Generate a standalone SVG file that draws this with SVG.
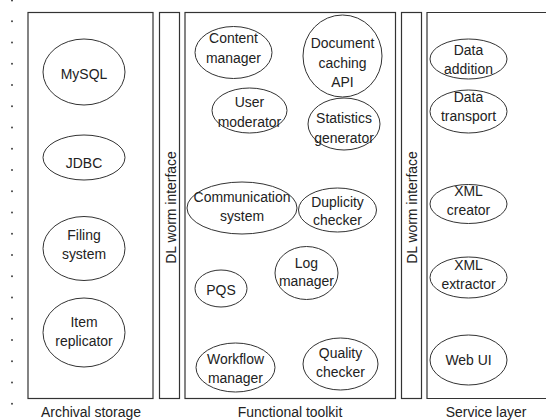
<svg xmlns="http://www.w3.org/2000/svg" width="546" height="420" viewBox="0 0 546 420">
  <style>
    .panel { fill: none; stroke: #333; stroke-width: 1.2; }
    .node { fill: #fff; stroke: #333; stroke-width: 1; }
    .dot { fill: #444; }
    text { font-family: "Liberation Sans", Arial, sans-serif; font-size: 15.5px; fill: #222; text-anchor: middle; }
  </style>

  <!-- dotted margin marks -->
  <g id="margin-dots">
    <circle class="dot" cx="12" cy="0.5" r="1"/>
    <circle class="dot" cx="12" cy="21.3" r="1"/>
    <circle class="dot" cx="12" cy="42.5" r="1"/>
    <circle class="dot" cx="12" cy="63.8" r="1"/>
    <circle class="dot" cx="12" cy="85" r="1"/>
    <circle class="dot" cx="12" cy="106.3" r="1"/>
    <circle class="dot" cx="12" cy="127.5" r="1"/>
    <circle class="dot" cx="12" cy="148.8" r="1"/>
    <circle class="dot" cx="12" cy="170" r="1"/>
    <circle class="dot" cx="12" cy="191.3" r="1"/>
    <circle class="dot" cx="12" cy="212.5" r="1"/>
    <circle class="dot" cx="12" cy="233.8" r="1"/>
    <circle class="dot" cx="12" cy="255" r="1"/>
    <circle class="dot" cx="12" cy="276.3" r="1"/>
    <circle class="dot" cx="12" cy="297.5" r="1"/>
    <circle class="dot" cx="12" cy="318.8" r="1"/>
    <circle class="dot" cx="12" cy="340" r="1"/>
    <circle class="dot" cx="12" cy="361.3" r="1"/>
    <circle class="dot" cx="12" cy="382.5" r="1"/>
    <circle class="dot" cx="12" cy="403.8" r="1"/>
  </g>

  <!-- layer panels; labels use a slightly condensed face via scale(0.9,1) -->
  <g id="archival-storage">
    <rect class="panel" x="28" y="12.5" width="125" height="386"/>
    <text transform="translate(91,417) scale(0.9,1)">Archival storage</text>
  </g>
  <g id="dl-worm-left">
    <rect class="panel" x="159.5" y="12.5" width="20" height="386"/>
    <text transform="translate(175.5,207.5) rotate(-90) scale(0.9,1)">DL worm interface</text>
  </g>
  <g id="functional-toolkit">
    <rect class="panel" x="185" y="12.5" width="210.5" height="386"/>
    <text transform="translate(290,417) scale(0.9,1)">Functional toolkit</text>
  </g>
  <g id="dl-worm-right">
    <rect class="panel" x="401.5" y="12.5" width="20" height="386"/>
    <text transform="translate(416.5,207.5) rotate(-90) scale(0.9,1)">DL worm interface</text>
  </g>
  <g id="service-layer">
    <path class="panel" d="M548 12.5 H427 V398.5 H548"/>
    <text transform="translate(486,417) scale(0.9,1)">Service layer</text>
  </g>

  <!-- archival storage nodes -->
  <g id="mysql">
    <ellipse class="node" cx="84" cy="72" rx="41" ry="33"/>
    <g transform="translate(84,0) scale(0.9,1)"><text y="79">MySQL</text></g>
  </g>
  <g id="jdbc">
    <ellipse class="node" cx="84" cy="157.5" rx="41" ry="22.5"/>
    <g transform="translate(84,0) scale(0.9,1)"><text y="168">JDBC</text></g>
  </g>
  <g id="filing-system">
    <ellipse class="node" cx="84" cy="248.5" rx="41" ry="32"/>
    <g transform="translate(84,0) scale(0.9,1)"><text y="240">Filing</text><text y="259">system</text></g>
  </g>
  <g id="item-replicator">
    <ellipse class="node" cx="84" cy="332.5" rx="41" ry="34.5"/>
    <g transform="translate(84,0) scale(0.9,1)"><text y="327">Item</text><text y="346">replicator</text></g>
  </g>

  <!-- functional toolkit nodes -->
  <g id="content-manager">
    <ellipse class="node" cx="233.5" cy="52.5" rx="38.5" ry="26"/>
    <g transform="translate(233.5,0) scale(0.9,1)"><text y="43">Content</text><text y="63">manager</text></g>
  </g>
  <g id="document-caching-api">
    <ellipse class="node" cx="342.5" cy="56" rx="39.5" ry="41"/>
    <g transform="translate(342.5,0) scale(0.9,1)"><text y="48">Document</text><text y="68">caching</text><text y="87">API</text></g>
  </g>
  <g id="user-moderator">
    <ellipse class="node" cx="249.5" cy="110.5" rx="37.5" ry="22.5"/>
    <g transform="translate(249.5,0) scale(0.9,1)"><text y="107">User</text><text y="127">moderator</text></g>
  </g>
  <g id="statistics-generator">
    <ellipse class="node" cx="344" cy="124" rx="36" ry="26"/>
    <g transform="translate(344,0) scale(0.9,1)"><text y="123">Statistics</text><text y="143">generator</text></g>
  </g>
  <g id="communication-system">
    <ellipse class="node" cx="242" cy="208" rx="55" ry="26"/>
    <g transform="translate(242,0) scale(0.9,1)"><text y="202">Communication</text><text y="221">system</text></g>
  </g>
  <g id="duplicity-checker">
    <ellipse class="node" cx="337.5" cy="210" rx="39" ry="22"/>
    <g transform="translate(337.5,0) scale(0.9,1)"><text y="207">Duplicity</text><text y="225">checker</text></g>
  </g>
  <g id="log-manager">
    <ellipse class="node" cx="306.5" cy="273" rx="31.5" ry="26.5"/>
    <g transform="translate(306.5,0) scale(0.9,1)"><text y="268">Log</text><text y="286">manager</text></g>
  </g>
  <g id="pqs">
    <ellipse class="node" cx="221" cy="288.5" rx="26" ry="18.5"/>
    <g transform="translate(221,0) scale(0.9,1)"><text y="295">PQS</text></g>
  </g>
  <g id="workflow-manager">
    <ellipse class="node" cx="235.5" cy="367.5" rx="39.5" ry="24.5"/>
    <g transform="translate(235.5,0) scale(0.9,1)"><text y="364">Workflow</text><text y="383">manager</text></g>
  </g>
  <g id="quality-checker">
    <ellipse class="node" cx="340.5" cy="364" rx="37.5" ry="26"/>
    <g transform="translate(340.5,0) scale(0.9,1)"><text y="358">Quality</text><text y="377">checker</text></g>
  </g>

  <!-- service layer nodes -->
  <g id="data-addition">
    <ellipse class="node" cx="468.5" cy="59" rx="38.5" ry="20"/>
    <g transform="translate(468.5,0) scale(0.9,1)"><text y="55">Data</text><text y="74">addition</text></g>
  </g>
  <g id="data-transport">
    <ellipse class="node" cx="468.5" cy="111.5" rx="38.5" ry="21.5"/>
    <g transform="translate(468.5,0) scale(0.9,1)"><text y="102">Data</text><text y="121">transport</text></g>
  </g>
  <g id="xml-creator">
    <ellipse class="node" cx="468.5" cy="204" rx="38.5" ry="19.5"/>
    <g transform="translate(468.5,0) scale(0.9,1)"><text y="196">XML</text><text y="215">creator</text></g>
  </g>
  <g id="xml-extractor">
    <ellipse class="node" cx="468.5" cy="277.5" rx="38.5" ry="20.5"/>
    <g transform="translate(468.5,0) scale(0.9,1)"><text y="270">XML</text><text y="289">extractor</text></g>
  </g>
  <g id="web-ui">
    <ellipse class="node" cx="468.5" cy="360" rx="38.5" ry="25"/>
    <g transform="translate(468.5,0) scale(0.9,1)"><text y="365">Web UI</text></g>
  </g>

  <!-- no connectors between nodes -->
  <g id="connectors"/>
</svg>
